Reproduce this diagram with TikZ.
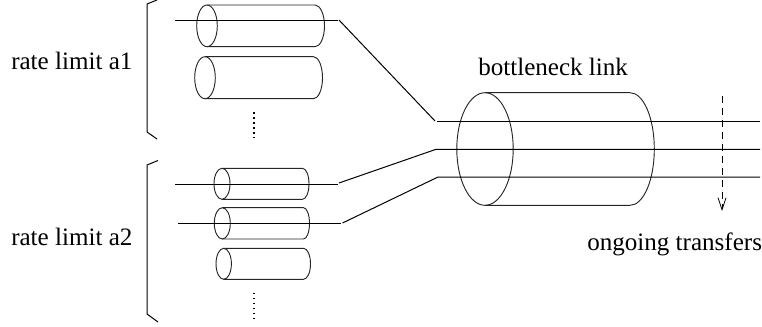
\documentclass[tikz,border=0pt]{standalone}
\usepackage{fontspec}
\setmainfont{Liberation Serif}
\usetikzlibrary{arrows.meta}
\tikzset{
  line/.style={draw=black,line width=0.75pt},
  cyl/.style={draw=black!85,line width=0.7pt},
  dotsline/.style={draw=black,line width=1.5pt,dash pattern=on 1.4pt off 2.35pt},
  lbl/.style={inner sep=0pt,anchor=base west,font=\fontsize{18.8}{21}\selectfont},
  flowarrow/.style={draw=black,line width=0.6pt,dash pattern=on 5pt off 4pt,-{Straight Barb[length=9pt,width=6pt,line width=0.6pt]}}
}
% cx, rx, top, bottom, right-start x, right rx
\newcommand{\mycyl}[6]{%
  \draw[cyl] (#1,{(#3+#4)/2}) ellipse [x radius=#2,y radius={(#4-#3)/2}];
  \draw[cyl] (#1,#3) -- (#5,#3) arc [start angle=-90,end angle=90,x radius=#6,y radius={(#4-#3)/2}] -- (#1,#4);
}
\begin{document}
\begin{tikzpicture}[x=0.75pt,y=-0.75pt]
\useasboundingbox (0,0) rectangle (762,326);
% brackets
\draw[line] (157,0) -- (147,4) -- (147,132) -- (157,139);
\draw[line] (158,160.5) -- (147,165) -- (147,314) -- (158,322);
% small pipes
\mycyl{207}{10.3}{5}{46.7}{315}{9.5}
\mycyl{205}{10.3}{56.7}{98.7}{313.5}{9}
\mycyl{222}{8}{168.3}{199.3}{302.5}{6.5}
\mycyl{222.3}{8}{207.7}{239}{303.5}{6}
\mycyl{223.7}{7.7}{248.3}{279.3}{303.5}{7}
% bottleneck
\mycyl{485}{28.2}{92.7}{205.3}{630}{24.3}
% dots
\draw[dotsline] (254,112) -- (254,138);
\draw[dotsline] (254,292.5) -- (254,318);
% flows
\coordinate (a1in) at (175,20);
\coordinate (a1out) at (338,20);
\coordinate (bt) at (435,121);
\coordinate (btr) at (760,121);
\coordinate (a2in) at (175,184);
\coordinate (a2out) at (338,184);
\coordinate (bm) at (436,149.3);
\coordinate (bmr) at (760,149.3);
\coordinate (a3in) at (178,223.3);
\coordinate (a3out) at (341,223.3);
\coordinate (bb) at (438,177);
\coordinate (bbr) at (760,177);
\draw[line] (a1in) -- (a1out);
\draw[line] (a1out) ++(1,0) -- (bt);
\draw[line] (bt) ++(2,0) -- (btr);
\draw[line] (a2in) -- (a2out);
\draw[line] (a2out) ++(1,-1) -- (bm) -- (bmr);
\draw[line] (a3in) -- (a3out);
\draw[line] (a3out) ++(1.5,-0.3) -- (bb) -- (bbr);
% arrow
\coordinate (arrtop) at (722,96);
\coordinate (arrend) at (722,211);
\draw[flowarrow] (arrtop) -- (arrend);
% labels
\node[lbl] (l1) at (11,69.5) {rate limit a1};
\node[lbl] (l2) at (11,245) {rate limit a2};
\node[lbl] (l3) at (478,75.5) {bottleneck link};
\node[lbl] (l4) at (587,250) {ongoing transfers};
\end{tikzpicture}
\end{document}
